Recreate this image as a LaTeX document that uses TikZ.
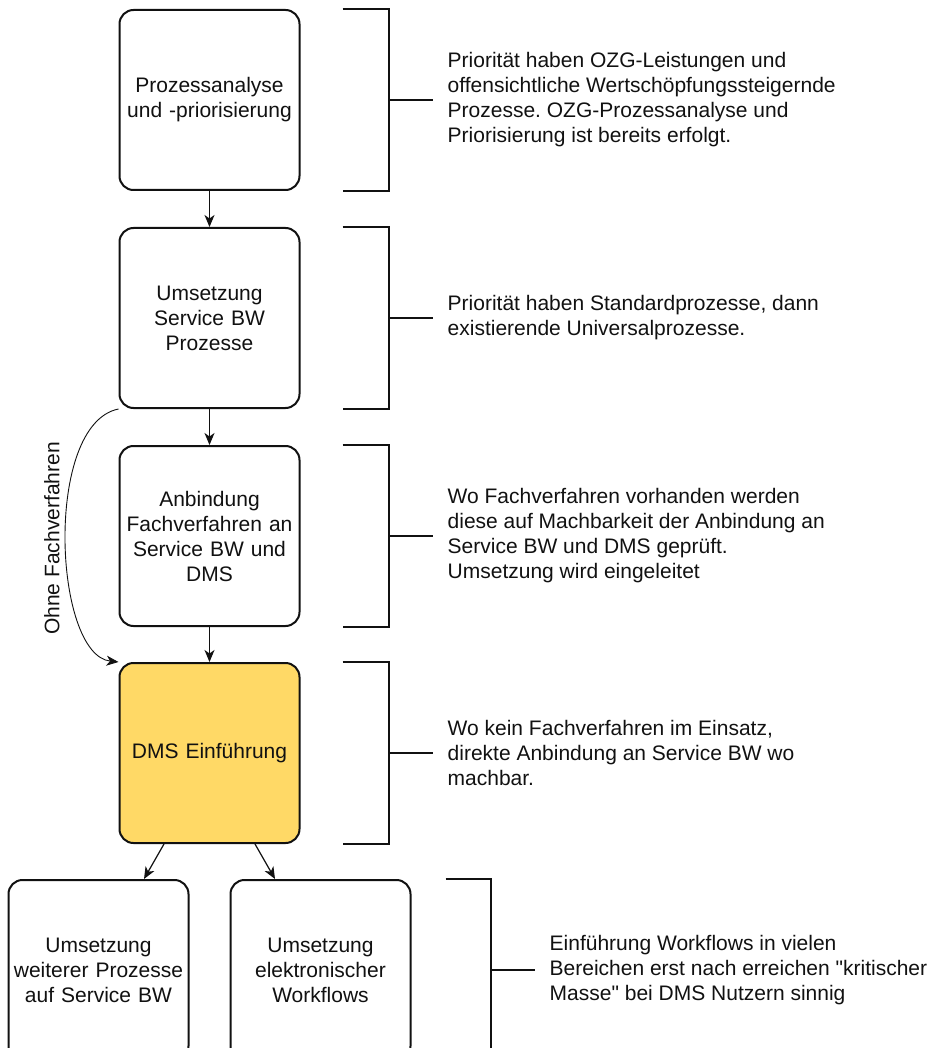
\documentclass[tikz,border=0pt]{standalone}
\usepackage{fontspec}
\setmainfont{Liberation Sans}[Ligatures=TeXOff]
\usetikzlibrary{arrows.meta,positioning,calc}
\definecolor{dmsyellow}{HTML}{FFD966}
\definecolor{ink}{HTML}{111111}
\frenchspacing
\tikzset{
  stepbox/.style={
    rectangle,
    rounded corners=14pt,
    draw=ink,
    line width=2pt,
    align=center,
    text width=176pt,
    minimum width=180pt,
    minimum height=180pt,
    inner sep=2pt,
    fill=white
  },
  dmsbox/.style={stepbox, fill=dmsyellow},
  bracket/.style={
    draw=ink,
    line width=2pt
  },
  note/.style={
    align=left,
    inner sep=0pt
  },
  flow/.style={
    -{Stealth[length=12pt,width=10pt,inset=3.5pt]},
    draw=ink,
    line width=1.2pt
  },
  bypass/.style={flow, line width=0.9pt}
}

\begin{document}
\begin{tikzpicture}[
  x=1pt, y=1pt,
  font=\fontsize{21}{25}\selectfont,
  every node/.style={text=ink}
]

\useasboundingbox (0,0) rectangle (936,-1048);
\clip (0,0) rectangle (936,-1048);

% ---- Main column ----
\node[stepbox] (prio) at (209.5,-100) {Prozessanalyse\\und -priorisierung};
\node[stepbox, below=36pt of prio] (sbw) {Umsetzung\\Service BW\\Prozesse};
\node[stepbox, below=36pt of sbw] (fv) {Anbindung\\Fachverfahren an\\Service BW und\\DMS};
\node[dmsbox, below=35pt of fv] (dms) {DMS Einführung};

% ---- Bottom row ----
\node[stepbox, below left=35pt and -71pt of dms] (further) {Umsetzung\\weiterer Prozesse\\auf Service BW};
\node[stepbox, below right=35pt and -71pt of dms] (wf) {Umsetzung\\elektronischer\\Workflows};

% ---- Notes ----
\node[note, right=147pt of prio] (prio note) {Priorität haben OZG-Leistungen und\\offensichtliche Wertschöpfungssteigernde\\Prozesse. OZG-Prozessanalyse und\\Priorisierung ist bereits erfolgt.};
\node[note, right=147pt of sbw] (sbw note) {Priorität haben Standardprozesse, dann\\existierende Universalprozesse.};
\node[note, right=147pt of fv] (fv note) {Wo Fachverfahren vorhanden werden\\diese auf Machbarkeit der Anbindung an\\Service BW und DMS geprüft.\\Umsetzung wird eingeleitet};
\node[note, right=147pt of dms] (dms note) {Wo kein Fachverfahren im Einsatz,\\direkte Anbindung an Service BW wo\\machbar.};
\node[note, right=138pt of wf] (wf note) {Einführung Workflows in vielen\\Bereichen erst nach erreichen "kritischer\\Masse" bei DMS Nutzern sinnig};

% ---- Brackets ----
\draw[bracket] ([xshift=42pt]prio.north east) -| ([xshift=88pt]prio.east) |- ([xshift=42pt]prio.south east);
\draw[bracket] ([xshift=88pt]prio.east) -- ([xshift=-15pt]prio note.west);

\draw[bracket] ([xshift=42pt]sbw.north east) -| ([xshift=88pt]sbw.east) |- ([xshift=42pt]sbw.south east);
\draw[bracket] ([xshift=88pt]sbw.east) -- ([xshift=-15pt]sbw note.west);

\draw[bracket] ([xshift=42pt]fv.north east) -| ([xshift=88pt]fv.east) |- ([xshift=42pt]fv.south east);
\draw[bracket] ([xshift=88pt]fv.east) -- ([xshift=-15pt]fv note.west);

\draw[bracket] ([xshift=42pt]dms.north east) -| ([xshift=88pt]dms.east) |- ([xshift=42pt]dms.south east);
\draw[bracket] ([xshift=88pt]dms.east) -- ([xshift=-15pt]dms note.west);

\draw[bracket] ([xshift=34pt]wf.north east) -| ([xshift=79pt]wf.east) |- ([xshift=34pt]wf.south east);
\draw[bracket] ([xshift=79pt]wf.east) -- ([xshift=-15pt]wf note.west);

% ---- Flow ----
\draw[flow] (prio) -- (sbw);
\draw[flow] (sbw) -- (fv);
\draw[flow] (fv) -- (dms);
\draw[flow] ($(dms.south west)!0.25!(dms.south east)$) -- ($(further.north west)!0.75!(further.north east)$);
\draw[flow] ($(dms.south west)!0.75!(dms.south east)$) -- ($(wf.north west)!0.25!(wf.north east)$);

% Bypass without Fachverfahren
\draw[bypass] (sbw.south west) .. controls +(-75,-15) and +(-65,7) .. (dms.north west)
  node[pos=0.5, rotate=90, anchor=south, inner sep=6pt] (ohne) {Ohne Fachverfahren};

\end{tikzpicture}
\end{document}
